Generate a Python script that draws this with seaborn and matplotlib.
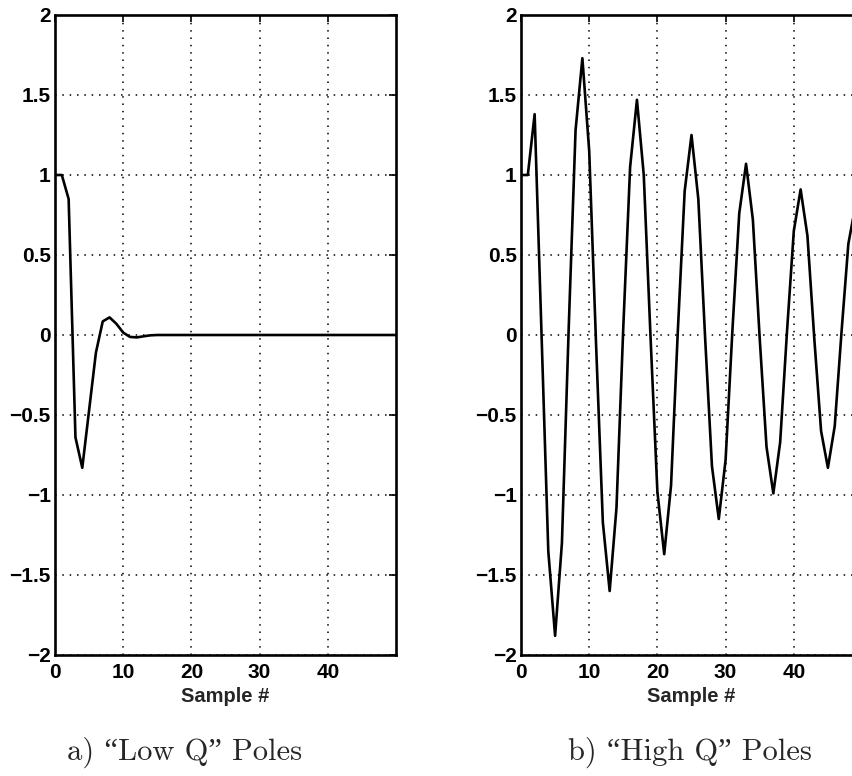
import matplotlib
matplotlib.use("Agg")
import matplotlib.pyplot as plt
import numpy as np
import pandas as pd
import seaborn as sns
from matplotlib.ticker import FixedLocator, FixedFormatter

# ---------------- data ----------------
sample_index = list(range(51))

low_q_response = [
    1.00, 1.00, 0.85, -0.64, -0.83, -0.47, -0.11, 0.085, 0.11, 0.07,
    0.015, -0.012, -0.015, -0.008, -0.002, 0.0, 0.0, 0.0, 0.0, 0.0,
    0.0, 0.0, 0.0, 0.0, 0.0, 0.0, 0.0, 0.0, 0.0, 0.0,
    0.0, 0.0, 0.0, 0.0, 0.0, 0.0, 0.0, 0.0, 0.0, 0.0,
    0.0, 0.0, 0.0, 0.0, 0.0, 0.0, 0.0, 0.0, 0.0, 0.0,
    0.0,
]

high_q_response = [
    1.00, 1.00, 1.38, 0.02, -1.35, -1.88, -1.30, 0.05, 1.28, 1.73,
    1.15, -0.05, -1.17, -1.60, -1.08, 0.05, 1.05, 1.47, 1.00, -0.02,
    -0.98, -1.37, -0.94, 0.03, 0.90, 1.25, 0.85, -0.02, -0.82, -1.15,
    -0.78, 0.03, 0.76, 1.07, 0.72, -0.02, -0.70, -0.99, -0.67, 0.02,
    0.65, 0.91, 0.62, -0.02, -0.60, -0.83, -0.57, 0.02, 0.57, 0.80,
    0.52,
]

x_ticks = [0, 10, 20, 30, 40]
x_tick_labels = ["0", "10", "20", "30", "40"]
y_ticks = [-2, -1.5, -1, -0.5, 0, 0.5, 1, 1.5, 2]
y_tick_labels = ["\u22122", "\u22121.5", "\u22121", "\u22120.5", "0", "0.5", "1", "1.5", "2"]
x_label = "Sample #"
captions = ["a) \u201cLow Q\u201d Poles", "b) \u201cHigh Q\u201d Poles"]

# ---------------- style ----------------
sns.set_style("white")
plt.rcParams['font.family'] = ['Liberation Sans', 'DejaVu Sans']
plt.rcParams['axes.unicode_minus'] = True

W, H = 852, 776
fig = plt.figure(figsize=(W / 100, H / 100), dpi=100)
fig.patch.set_facecolor("white")

ax_left = fig.add_axes([55 / W, 121 / H, 341 / W, 640 / H])
ax_right = fig.add_axes([521 / W, 121 / H, 341 / W, 640 / H])

series = [low_q_response, high_q_response]
for ax, values in zip([ax_left, ax_right], series):
    df = pd.DataFrame({"sample": sample_index, "value": values})
    sns.lineplot(data=df, x="sample", y="value", ax=ax, color="black",
                 linewidth=1.9, zorder=3)
    ax.set_xlim(0, 50)
    ax.set_ylim(-2, 2)
    ax.xaxis.set_major_locator(FixedLocator(x_ticks))
    ax.xaxis.set_major_formatter(FixedFormatter(x_tick_labels))
    ax.yaxis.set_major_locator(FixedLocator(y_ticks))
    ax.yaxis.set_major_formatter(FixedFormatter(y_tick_labels))
    ax.grid(True, color="black", linestyle=(0, (1.0, 3.8)), linewidth=1.1, zorder=1)
    ax.set_axisbelow(True)
    for sp in ax.spines.values():
        sp.set_visible(True)
        sp.set_color("black")
        sp.set_linewidth(1.9)
    ax.tick_params(direction="in", length=5, width=1.2, top=True, right=True,
                   labelsize=15, colors="black")
    ax.tick_params(axis="x", pad=6)
    ax.tick_params(axis="y", pad=3)
    for lab in ax.get_xticklabels() + ax.get_yticklabels():
        lab.set_fontweight("bold")
    ax.set_xlabel(x_label, fontsize=14.5, fontweight="bold", labelpad=3)
    ax.set_ylabel("")
    ax.set_facecolor("white")

cap_font = ["cmr10", "Liberation Serif"]
fig.text(185 / W, 1 - 752 / H, captions[0], ha="center", va="center",
         fontsize=22, family=cap_font)
fig.text(690 / W, 1 - 752 / H, captions[1], ha="center", va="center",
         fontsize=22, family=cap_font)

fig.savefig("out.png", dpi=100, facecolor="white")
